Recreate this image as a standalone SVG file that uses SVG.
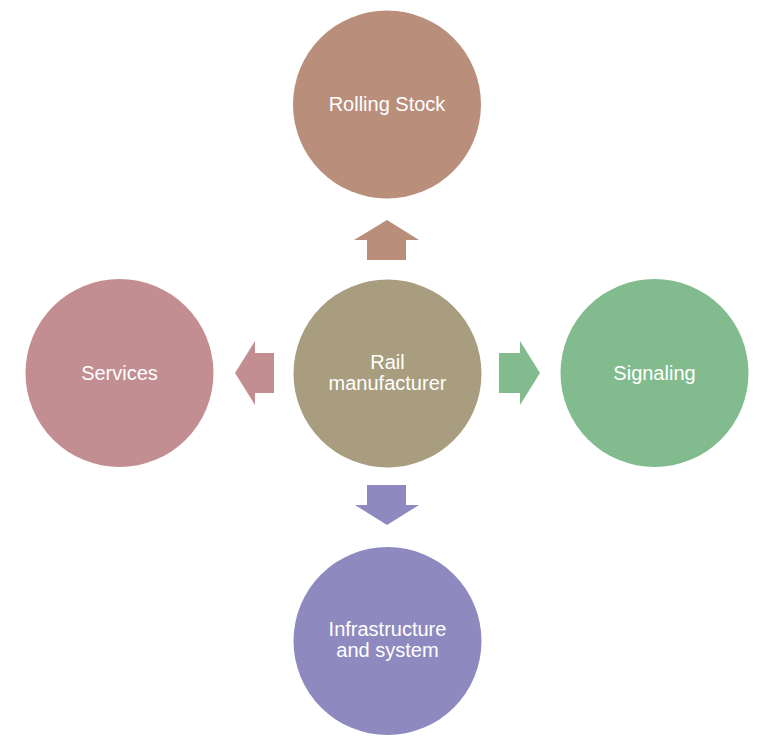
<svg xmlns="http://www.w3.org/2000/svg" width="766" height="739" viewBox="0 0 766 739">
<style>
  text { font-family: "Liberation Sans", Arial, sans-serif; font-size: 20px; fill: #ffffff; text-anchor: middle; }
</style>
<rect width="766" height="739" fill="#ffffff"/>
<g id="connectors">
  <polygon points="367,260 367,240 354,240 387,220 419,240 406,240 406,260" fill="#B98E7B"/>
  <polygon points="274,353 255,353 255,341 235,373 255,405 255,393 274,393" fill="#C28E91"/>
  <polygon points="499,353 520,353 520,341 540,373 520,405 520,393 499,393" fill="#82BC8E"/>
  <polygon points="367,485 406,485 406,505 419,505 387,525 355,505 367,505" fill="#8E8ABF"/>
</g>
<g id="center">
  <circle cx="387.5" cy="373.5" r="94" fill="#A89D7E"/>
  <text x="387.5" y="369">Rail</text>
  <text x="387.5" y="390">manufacturer</text>
</g>
<g id="rolling-stock">
  <circle cx="387" cy="104.5" r="94" fill="#B98E7B"/>
  <text x="387" y="111">Rolling Stock</text>
</g>
<g id="services">
  <circle cx="119.5" cy="373" r="94" fill="#C28E91"/>
  <text x="119.5" y="380">Services</text>
</g>
<g id="signaling">
  <circle cx="654.5" cy="373" r="94" fill="#82BC8E"/>
  <text x="654.5" y="380">Signaling</text>
</g>
<g id="infrastructure">
  <circle cx="387.5" cy="641" r="94" fill="#8E8ABF"/>
  <text x="387.5" y="636">Infrastructure</text>
  <text x="387.5" y="657">and system</text>
</g>
</svg>
